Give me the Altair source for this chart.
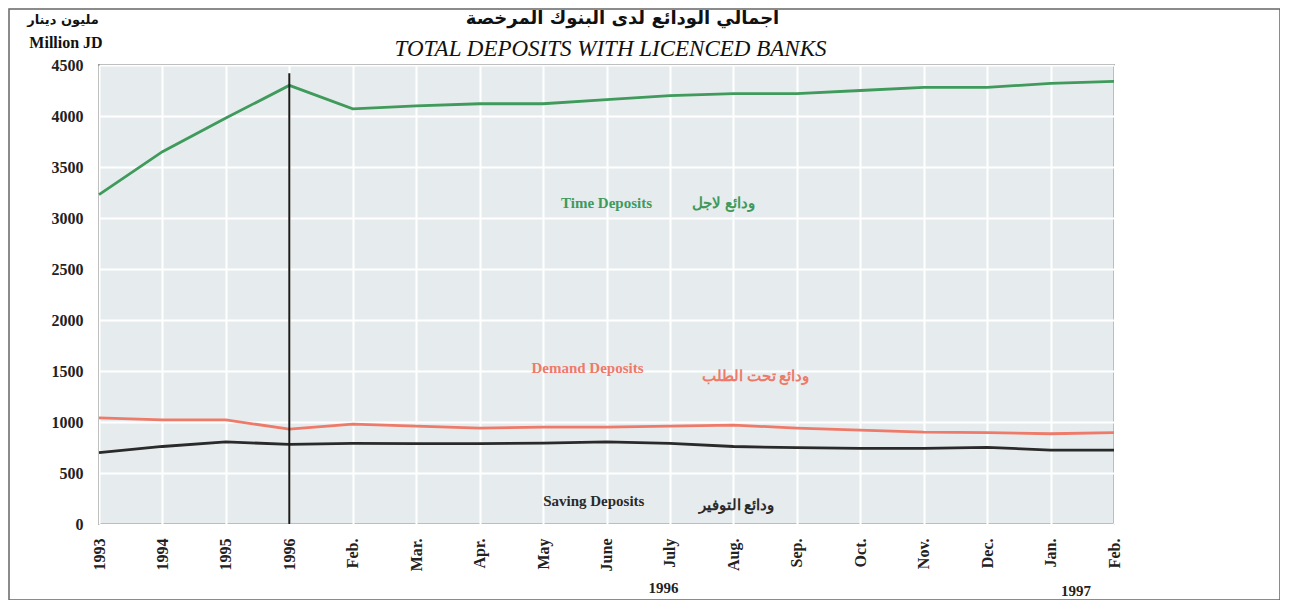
import altair as alt
import pandas as pd

# ---- data ----
labels = ["1993", "1994", "1995", "1996", "Feb.", "Mar.", "Apr.", "May", "June",
          "July", "Aug.", "Sep.", "Oct.", "Nov.", "Dec.", "Jan.", "Feb."]
time_dep = [3230, 3650, 3980, 4300, 4070, 4100, 4120, 4120, 4160, 4200, 4220,
            4220, 4250, 4280, 4280, 4320, 4340]
demand_dep = [1040, 1020, 1020, 930, 980, 960, 940, 950, 950, 960, 970, 940,
              920, 900, 895, 885, 895]
saving_dep = [700, 760, 805, 780, 790, 788, 788, 792, 805, 790, 760, 748,
              742, 742, 752, 725, 725]
series_names = ["Time Deposits", "Demand Deposits", "Saving Deposits"]
series_colors = ["#3f9a5c", "#ee7a6a", "#2a2a2a"]

# annotations (label text, x index, y value, colour)
ann_text = ["Time Deposits", "ودائع لاجل", "Demand Deposits", "ودائع تحت الطلب",
            "Saving Deposits", "ودائع التوفير"]
ann_x = [8.0, 9.85, 7.7, 10.35, 7.8, 10.05]
ann_y = [3150, 3150, 1530, 1450, 225, 190]
ann_color = ["#3f9a5c", "#3f9a5c", "#ee7a6a", "#ee7a6a", "#2a2a2a", "#2a2a2a"]

year_text = ["1996", "1997"]
year_x = [8.9, 15.4]

title_ar = "اجمالي الودائع لدى البنوك المرخصة"
title_en = "TOTAL DEPOSITS WITH LICENCED BANKS"
unit_ar = "مليون دينار"
unit_en = "Million JD"

idx = list(range(len(labels)))
rows = []
for name, vals in zip(series_names, [time_dep, demand_dep, saving_dep]):
    for i, v in zip(idx, vals):
        rows.append({"i": i, "value": v, "series": name})
df = pd.DataFrame(rows)

label_js = "[" + ",".join('"%s"' % l for l in labels) + "]"

FONT = "Liberation Serif"
W, H = 1015, 459

x_enc = alt.X("i:Q", scale=alt.Scale(domain=[0, 16], nice=False, zero=False),
              axis=alt.Axis(values=idx, labelExpr=label_js + "[datum.value]",
                            labelAngle=270, labelFont=FONT, labelFontSize=16,
                            labelFontWeight="bold", labelColor="#222",
                            ticks=False, domain=False, labelPadding=14,
                            grid=True, gridColor="white", gridWidth=2,
                            title=None))
y_scale = alt.Scale(domain=[0, 4500], nice=False)

lines = alt.Chart(df).mark_line(strokeWidth=2.8).encode(
    x=x_enc,
    y=alt.Y("value:Q", scale=y_scale,
            axis=alt.Axis(values=list(range(0, 4501, 500)), format="d",
                          labelFont=FONT, labelFontSize=16,
                          labelFontWeight="bold", labelColor="#222",
                          ticks=False, domain=False, labelPadding=16,
                          grid=True, gridColor="white", gridWidth=2,
                          title=None)),
    color=alt.Color("series:N", scale=alt.Scale(domain=series_names,
                                                range=series_colors),
                    legend=None),
)

vline = alt.Chart(pd.DataFrame({"i": [3], "y0": [0], "y1": [4420]})).mark_rule(
    color="#1a1a1a", strokeWidth=2).encode(
    x="i:Q", y=alt.Y("y0:Q", scale=y_scale), y2="y1:Q")

ann_df = pd.DataFrame({"t": ann_text, "i": ann_x, "v": ann_y, "c": ann_color})
ann = alt.Chart(ann_df).mark_text(font=FONT, fontSize=15, fontWeight="bold",
                                  align="center", baseline="middle").encode(
    x="i:Q", y=alt.Y("v:Q", scale=y_scale), text="t:N",
    color=alt.Color("c:N", scale=None))

yr_df = pd.DataFrame({"t": year_text, "i": year_x, "dy": [523, 526]})
years = alt.Chart(yr_df).mark_text(font=FONT, fontSize=15, fontWeight="bold",
                                   color="#222", baseline="middle").encode(
    x="i:Q", y=alt.Y("dy:Q", scale=None), text="t:N")

one = pd.DataFrame({"a": [0]})
frame = alt.Chart(one).mark_rect(
    fillOpacity=0, stroke="#666", strokeWidth=1.5).encode(
    x=alt.value(-90), x2=alt.value(1181), y=alt.value(-56), y2=alt.value(535))

t_ar = alt.Chart(one).mark_text(text=title_ar, font="DejaVu Sans", fontSize=18,
                                fontWeight="bold", color="#111",
                                baseline="middle").encode(
    x=alt.value(W / 2 + 16), y=alt.value(-46))
t_en = alt.Chart(one).mark_text(text=title_en, font=FONT, fontSize=23,
                                fontStyle="italic", color="#111",
                                baseline="middle").encode(
    x=alt.value(W / 2 + 4), y=alt.value(-16))
u_ar = alt.Chart(one).mark_text(text=unit_ar, font="DejaVu Sans", fontSize=13,
                                fontWeight="bold", color="#111",
                                baseline="middle").encode(
    x=alt.value(-36), y=alt.value(-45))
u_en = alt.Chart(one).mark_text(text=unit_en, font=FONT, fontSize=16,
                                fontWeight="bold", color="#111",
                                baseline="middle").encode(
    x=alt.value(-33), y=alt.value(-22))

chart = alt.layer(lines, vline, ann, years, frame, t_ar, t_en, u_ar, u_en).properties(
    width=W, height=H,
    autosize=alt.AutoSizeParams(type="none"),
    padding={"left": 91, "top": 57, "right": 166, "bottom": 76},
    background="white",
).configure_view(
    fill="#e6eced", stroke="#555", strokeWidth=1.5
)

chart.save("out.html", embed_options={"renderer": "svg", "actions": False})
